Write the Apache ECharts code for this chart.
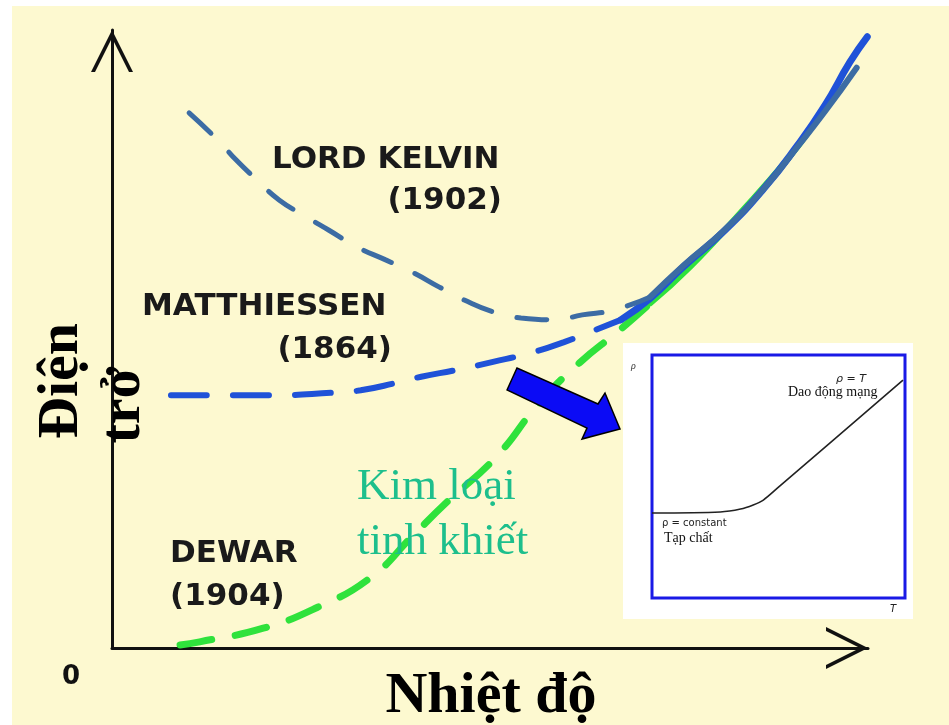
<!DOCTYPE html>
<html>
<head>
<meta charset="utf-8">
<title>Điện trở - Nhiệt độ</title>
<script src="https://cdn.jsdelivr.net/npm/echarts@6/dist/echarts.min.js"></script>
<style>
  html, body { margin: 0; padding: 0; background: #fff; }
  #chart { width: 949px; height: 725px; }
</style>
</head>
<body>
<div id="chart"></div>
<script>
// trục chính: nhiệt độ 0..100, điện trở 0..100 (đơn vị tương đối)
// Lord Kelvin (1902): giảm rồi tăng
var kelvinDash = [[10.2, 86.6], [14.0, 82.2], [16.4, 79.0], [19.2, 75.7], [22.1, 72.5], [25.8, 69.7],
    [28.7, 67.6], [32.4, 64.9], [36.2, 62.8], [39.9, 60.7], [43.3, 58.4], [46.6, 56.3], [50.4, 54.4],
    [54.1, 53.4], [58.5, 53.1], [62.2, 53.9], [66.4, 54.7], [71.2, 56.8]];
var kelvinSolid = [[71.2, 56.8], [75.6, 61.9], [81.0, 67.6], [86.2, 74.3], [90.6, 81.0], [94.3, 86.8],
    [98.5, 93.9]];
// Matthiessen (1864): hằng số rồi tăng
var matthiessenDash = [[7.8, 40.9], [21.0, 40.9], [29.1, 41.3], [32.9, 41.7], [37.6, 42.9], [40.9, 43.9],
    [45.6, 45.0], [50.4, 46.3], [55.2, 47.7], [59.8, 49.5], [64.0, 51.5], [67.3, 53.1]];
var matthiessenSolid = [[67.3, 53.1], [71.2, 56.6], [75.6, 61.7], [81.0, 67.5], [86.2, 74.3], [90.6, 81.2],
    [94.3, 87.8], [97.6, 94.8], [99.9, 98.9]];
// Dewar (1904): kim loại tinh khiết, về 0
var dewarDash = [[9.0, 0.5], [11.6, 1.0], [20.0, 3.2], [27.2, 6.6], [34.1, 11.3], [39.9, 18.3], [44.2, 23.5],
    [50.8, 30.9], [56.5, 39.6], [61.8, 46.1], [67.2, 51.5], [71.2, 55.8]];
var dewarSolid = [[71.2, 55.8], [76.5, 61.7], [83.1, 70.4], [89.3, 79.0], [92.3, 83.8]];
// hình nhỏ: rho theo T
var insetCurve = [[0, 35.0], [27, 35.4], [35, 36.6], [40, 38.3], [44, 40.3], [50, 45.6], [99.2, 89.7]];

var chart = echarts.init(document.getElementById('chart'), null, { renderer: 'canvas' });

var chevron = 'path://M0,42 L21,0 L42,42 L38,42 L21,8 L4,42 Z';

function curve(data, color, width, dash) {
    return {
        type: 'line',
        xAxisIndex: 0,
        yAxisIndex: 0,
        data: data,
        smooth: true,
        showSymbol: false,
        clip: false,
        silent: true,
        lineStyle: { color: color, width: width, type: dash || 'solid', cap: 'round' }
    };
}

function txt(text, x, y, font, fill, align, rot) {
    return {
        type: 'text',
        z: 20,
        rotation: rot || 0,
        x: x,
        y: y,
        style: {
            text: text,
            font: font,
            fill: fill || '#1a1a1a',
            align: align || 'left',
            verticalAlign: 'middle'
        }
    };
}

var serif = '"Liberation Serif", "Times New Roman", "DejaVu Serif", serif';
var sans = '"DejaVu Sans", "Liberation Sans", sans-serif';
var label = 'bold 31px ' + sans;

chart.setOption({
    backgroundColor: '#fdf9d0',
    animation: false,
    grid: [
        { left: 112, right: 81, top: 30, bottom: 77 },
        // hình nhỏ
        { left: 652, top: 355, width: 253, height: 243, show: true,
          backgroundColor: '#ffffff', borderColor: '#1a1ae6', borderWidth: 3 }
    ],
    xAxis: [
        {
            type: 'value', gridIndex: 0, min: 0, max: 100,
            axisLine: { show: true, lineStyle: { color: '#111', width: 3 },
                symbol: ['none', chevron], symbolSize: [42, 42], symbolOffset: [0, -21] },
            axisTick: { show: false }, axisLabel: { show: false }, splitLine: { show: false }
        },
        { type: 'value', gridIndex: 1, min: 0, max: 100, show: false }
    ],
    yAxis: [
        {
            type: 'value', gridIndex: 0, min: 0, max: 100,
            axisLine: { show: true, lineStyle: { color: '#111', width: 3 },
                symbol: ['none', chevron], symbolSize: [42, 42], symbolOffset: [0, -21] },
            axisTick: { show: false }, axisLabel: { show: false }, splitLine: { show: false }
        },
        { type: 'value', gridIndex: 1, min: 0, max: 100, show: false }
    ],
    series: [
        curve(dewarSolid, '#2fe23c', 6),
        curve(dewarDash, '#2fe23c', 7, [32, 24]),
        curve(matthiessenDash, '#1f52d8', 6, [36, 26]),
        curve(matthiessenSolid, '#1f52d8', 7),
        curve(kelvinDash, '#3c6ca4', 5, [30, 26]),
        curve(kelvinSolid, '#3c6ca4', 6),
        {
            type: 'line',
            xAxisIndex: 1,
            yAxisIndex: 1,
            data: insetCurve,
            smooth: 0.3,
            showSymbol: false,
            silent: true,
            lineStyle: { color: '#222', width: 1.6 }
        }
    ],
    graphic: [
        // viền trắng của ảnh gốc
        { type: 'rect', z: -5, shape: { x: 0, y: 0, width: 949, height: 6 }, style: { fill: '#fff' } },
        { type: 'rect', z: -5, shape: { x: 0, y: 0, width: 12, height: 725 }, style: { fill: '#fff' } },
        // nền trắng hình nhỏ
        { type: 'rect', z: -1, shape: { x: 623, y: 343, width: 290, height: 276 }, style: { fill: '#fff' } },
        // mũi tên xanh
        {
            type: 'polygon', z: 15,
            shape: { points: [[507, 390], [517, 368], [598, 404], [605, 393], [620, 429], [582, 439], [587, 428]] },
            style: { fill: '#0b0bf5', stroke: '#000', lineWidth: 1.5 }
        },
        txt('LORD KELVIN', 272, 160, label),
        txt('(1902)', 502, 201, label, null, 'right'),
        txt('MATTHIESSEN', 142, 307, label),
        txt('(1864)', 392, 350, label, null, 'right'),
        txt('DEWAR', 170, 554, label),
        txt('(1904)', 170, 597, label),
        txt('Kim loại', 357, 487, '45px ' + serif, '#1dbf8c'),
        txt('tinh khiết', 357, 542, '45px ' + serif, '#1dbf8c'),
        txt('Nhiệt độ', 491, 697, 'bold 58px ' + serif, '#000', 'center'),
        txt('Điện', 62, 381, 'bold 58px ' + serif, '#000', 'center', Math.PI / 2),
        txt('trở', 124, 405, 'bold 58px ' + serif, '#000', 'center', Math.PI / 2),
        txt('0', 71, 677, 'bold 26px ' + sans, '#111', 'center'),
        // chữ trong hình nhỏ
        txt('ρ', 631, 366, 'italic 10px ' + serif, '#333'),
        txt('ρ = T', 851, 379, 'italic 11px ' + sans, '#222', 'center'),
        txt('Dao động mạng', 788, 392, '14px ' + serif, '#111'),
        txt('ρ = constant', 662, 523, '10px ' + sans, '#222'),
        txt('Tạp chất', 664, 538, '14px ' + serif, '#111'),
        txt('T', 893, 609, 'italic 10px ' + sans, '#222', 'center')
    ]
});
</script>
</body>
</html>
